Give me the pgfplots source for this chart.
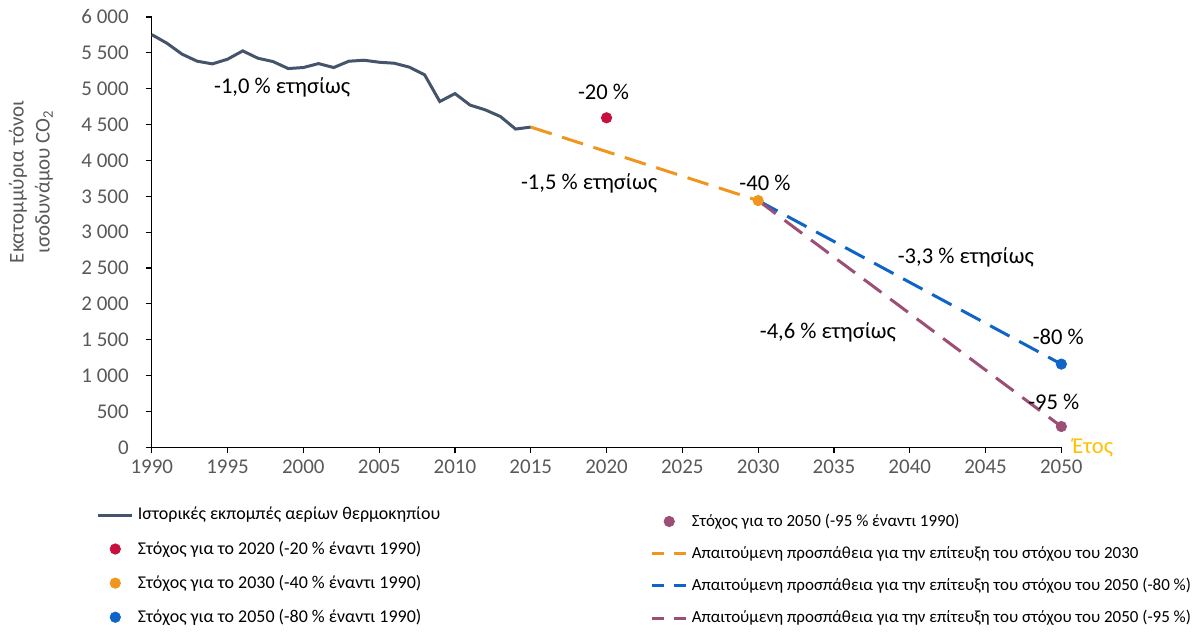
\documentclass[border=0pt]{standalone}
\usepackage{pgfplots}
\pgfplotsset{compat=1.18}
\usepackage{fontspec}
\setmainfont{Carlito}
\definecolor{histc}{HTML}{44546A}
\definecolor{redc}{HTML}{C8103E}
\definecolor{orangec}{HTML}{F0961E}
\definecolor{bluec}{HTML}{0F64C8}
\definecolor{purplec}{HTML}{9C4F74}
\definecolor{tickgray}{HTML}{595959}
\definecolor{goldc}{HTML}{FFC000}
\begin{document}
\begin{tikzpicture}
\pgfplotsset{
  base/.style={scale only axis, width=455.5pt, height=215.5pt,
    xmin=1990, xmax=2050, ymin=0, ymax=6000, clip=false,
    /pgf/number format/assume math mode=true},
  dashline/.style={line width=1.5pt, dash pattern=on 11pt off 5.5pt},
  legfont/.style={font=\fontsize{9}{11}\selectfont},
}
\begin{axis}[base,
  axis x line=bottom, axis y line=left,
  axis line style={-, line width=0.6pt},
  xtick={1990,1995,...,2050}, ytick={0,500,...,6000},
  tick align=outside, major tick length=3pt,
  tick style={black, line width=0.6pt},
  ticklabel style={font=\fontsize{10.5}{12}\selectfont, text=tickgray},
  x tick label style={/pgf/number format/1000 sep={}},
  y tick label style={/pgf/number format/1000 sep={\ }, xshift=-5pt},
  legend style={legfont, draw=none, fill=none, legend cell align=left,
    at={(axis description cs:-0.0675,-0.12)}, anchor=north west, row sep=5pt},
]
\addplot[histc, line width=1.5pt, forget plot] coordinates {
(1990,5754) (1991,5634) (1992,5481) (1993,5383) (1994,5346) (1995,5411)
(1996,5527) (1997,5425) (1998,5378) (1999,5281) (2000,5295) (2001,5350)
(2002,5295) (2003,5383) (2004,5397) (2005,5369) (2006,5355) (2007,5300)
(2008,5193) (2009,4821) (2010,4932) (2011,4771) (2012,4705) (2013,4612)
(2014,4437) (2015,4465)};
\addplot[orangec, dashline, forget plot] coordinates {(2015,4465) (2030,3440)};
\addplot[bluec, dashline, forget plot] coordinates {(2030,3440) (2050,1160)};
\addplot[purplec, dashline, forget plot] coordinates {(2030,3440) (2050,290)};
\addplot[only marks, mark=*, mark size=2.6pt, redc, forget plot] coordinates {(2020,4594)};
\addplot[only marks, mark=*, mark size=2.6pt, orangec, forget plot] coordinates {(2030,3440)};
\addplot[only marks, mark=*, mark size=2.6pt, bluec, forget plot] coordinates {(2050,1160)};
\addplot[only marks, mark=*, mark size=2.6pt, purplec, forget plot] coordinates {(2050,290)};

\addlegendimage{histc, line width=1.5pt}
\addlegendentry{Ιστορικές εκπομπές αερίων θερμοκηπίου}
\addlegendimage{only marks, mark=*, mark size=2.6pt, redc}
\addlegendentry{Στόχος για το 2020 (-20 \% έναντι 1990)}
\addlegendimage{only marks, mark=*, mark size=2.6pt, orangec}
\addlegendentry{Στόχος για το 2030 (-40 \% έναντι 1990)}
\addlegendimage{only marks, mark=*, mark size=2.6pt, bluec}
\addlegendentry{Στόχος για το 2050 (-80 \% έναντι 1990)}

\begin{scope}[font=\fontsize{11.3}{13}\selectfont]
\node at (axis cs:1998.6,5012) {-1,0 \% ετησίως};
\node at (axis cs:2019.8,4956) {-20 \%};
\node at (axis cs:2018.85,3675) {-1,5 \% ετησίως};
\node at (axis cs:2030.45,3690) {-40 \%};
\node at (axis cs:2043.7,2645) {-3,3 \% ετησίως};
\node at (axis cs:2034.6,1601) {-4,6 \% ετησίως};
\node at (axis cs:2049.8,1545) {-80 \%};
\node at (axis cs:2049.5,640) {-95 \%};
\node[anchor=west, text=goldc, inner sep=0pt] at (axis cs:2050.7,0) {Έτος};
\end{scope}
\node[rotate=90, align=center, text=tickgray, font=\fontsize{10.5}{13}\selectfont]
  at (axis description cs:-0.1328,0.617) {Εκατομμύρια τόνοι\\ισοδυνάμου CO\textsubscript{2}};
\end{axis}

\begin{axis}[base, hide axis,
  legend style={font=\fontsize{8.5}{11}\selectfont, draw=none, fill=none, legend cell align=left,
    at={(axis description cs:0.5415,-0.135)}, anchor=north west, row sep=4.5pt},
]
\addlegendimage{only marks, mark=*, mark size=2.6pt, purplec}
\addlegendentry{Στόχος για το 2050 (-95 \% έναντι 1990)}
\addlegendimage{orangec, line width=1.5pt, dash pattern=on 6pt off 5pt}
\addlegendentry{Απαιτούμενη προσπάθεια για την επίτευξη του στόχου του 2030}
\addlegendimage{bluec, line width=1.5pt, dash pattern=on 6pt off 5pt}
\addlegendentry{Απαιτούμενη προσπάθεια για την επίτευξη του στόχου του 2050 (-80 \%)}
\addlegendimage{purplec, line width=1.5pt, dash pattern=on 6pt off 5pt}
\addlegendentry{Απαιτούμενη προσπάθεια για την επίτευξη του στόχου του 2050 (-95 \%)}
\end{axis}
\path (-76pt,-92.5pt) rectangle (524.5pt,224pt);
\end{tikzpicture}
\end{document}
